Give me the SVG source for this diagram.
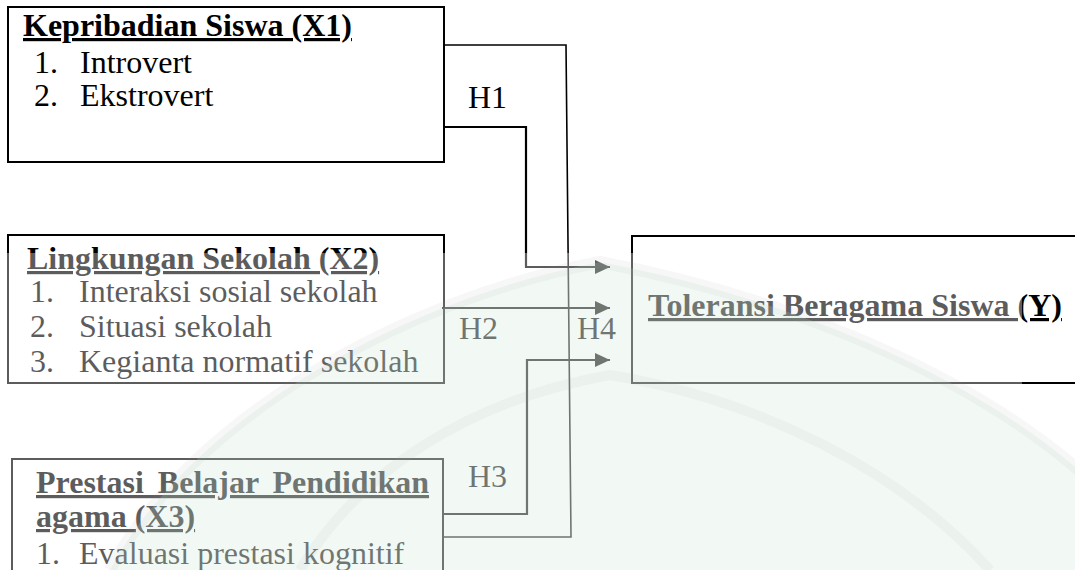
<svg xmlns="http://www.w3.org/2000/svg" width="1075" height="570" viewBox="0 0 1075 570">
  <defs>
    <style>
      .title { font-weight: bold; text-decoration: underline; }
      .box { fill: none; stroke: #000; stroke-width: 2; }
      .conn { fill: none; stroke: #000; stroke-width: 2.2; }
      .thin { fill: none; stroke: #000; stroke-width: 1.6; }
    </style>
    <marker id="arrow" markerUnits="userSpaceOnUse" markerWidth="15" markerHeight="14" refX="15" refY="7" orient="auto">
      <path d="M0,0 L15,7 L0,14 z" fill="#000"/>
    </marker>
  </defs>

  <rect x="0" y="0" width="1075" height="570" fill="#ffffff"/>

  <g font-family="'Liberation Serif', 'Times New Roman', Times, serif" font-size="32" fill="#000">
    <g id="node-x1">
      <rect class="box" x="8" y="7" width="436" height="155"/>
      <text class="title" x="23" y="36">Kepribadian Siswa (X1)</text>
      <text x="34" y="73">1.</text>
      <text x="80" y="73">Introvert</text>
      <text x="34" y="106">2.</text>
      <text x="80" y="106">Ekstrovert</text>
    </g>

    <g id="node-x2">
      <rect class="box" x="8" y="235" width="436" height="148"/>
      <text class="title" x="27" y="269">Lingkungan Sekolah (X2)</text>
      <text x="30" y="302">1.</text>
      <text x="79" y="302">Interaksi sosial sekolah</text>
      <text x="30" y="337">2.</text>
      <text x="79" y="337">Situasi sekolah</text>
      <text x="30" y="372">3.</text>
      <text x="79" y="372">Kegianta normatif sekolah</text>
    </g>

    <g id="node-x3">
      <rect class="box" x="12" y="459" width="431" height="130"/>
      <text class="title" x="36" y="493" style="word-spacing:6px">Prestasi Belajar Pendidikan</text>
      <text class="title" x="36" y="527">agama (X3)</text>
      <text x="36" y="564">1.</text>
      <text x="79" y="564">Evaluasi prestasi kognitif</text>
    </g>

    <g id="node-y">
      <rect class="box" x="632" y="236" width="460" height="147"/>
      <text class="title" x="648" y="316">Toleransi Beragama Siswa (Y)</text>
    </g>

    <g id="connectors">
      <polyline class="conn" points="444,127 526,127 526,267 610,267" marker-end="url(#arrow)"/>
      <polyline class="conn" points="442,308 610,308" marker-end="url(#arrow)"/>
      <polyline class="conn" points="443,514 527,514 527,360 610,360" marker-end="url(#arrow)"/>
      <polyline class="thin" points="444,45 566,45 571,537 443,537"/>
      <text x="468" y="108">H1</text>
      <text x="459" y="339">H2</text>
      <text x="468" y="487">H3</text>
      <text x="577" y="339">H4</text>
    </g>
  </g>

  <!-- watermark veil that greys everything beneath it -->
  <rect id="veil" x="0" y="253" width="1022" height="317" fill="#ffffff" fill-opacity="0.36"/>

  <!-- faint watermark emblem -->
  <g id="watermark">
    <path d="M110,570 C190,420 400,300 600,262 C800,300 980,380 1090,480 L1090,570 Z" fill="#bfe3cd" fill-opacity="0.2"/>
    <path d="M110,570 C190,420 400,300 600,262 C800,300 980,380 1090,480" fill="none" stroke="#9a9a9a" stroke-opacity="0.08" stroke-width="12"/>
    <path d="M300,570 C360,470 470,400 610,375 C760,400 900,470 990,570" fill="none" stroke="#9a9a9a" stroke-opacity="0.07" stroke-width="10"/>
  </g>
</svg>
